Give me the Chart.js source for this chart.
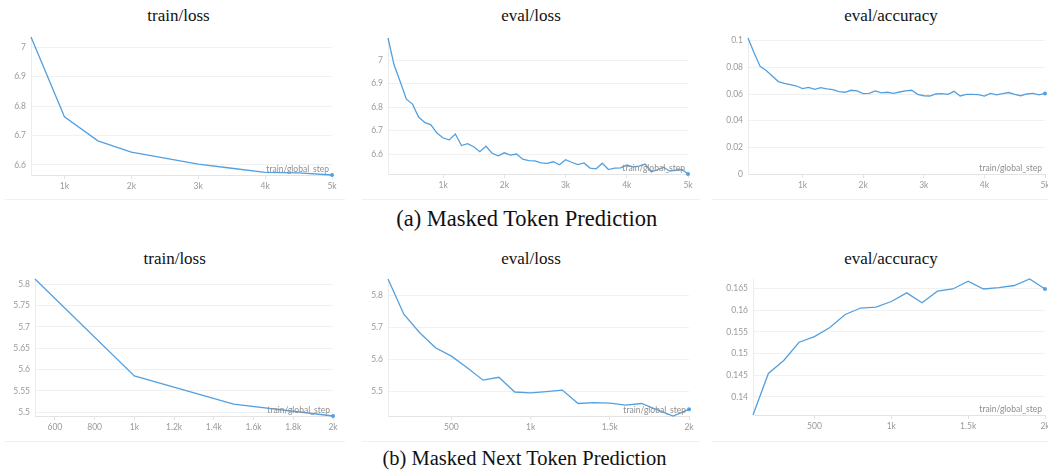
<!DOCTYPE html>
<html><head><meta charset="utf-8">
<script src="https://cdn.jsdelivr.net/npm/chart.js@4.4.1/dist/chart.umd.min.js"></script>
<style>
html,body{margin:0;padding:0;background:#fff;width:1048px;height:471px;overflow:hidden;position:relative;}
.t{position:absolute;font-family:"Liberation Serif","Times New Roman",serif;color:#111;white-space:nowrap;transform:translate(-50%,-50%);line-height:1.15;}
.title{font-size:17px;}
.capa{font-size:22.5px;}
.capb{font-size:20.5px;}
.sep{position:absolute;height:1px;background:#f0f0f0;}
canvas{position:absolute;}
</style></head><body>
<div class="t title" style="left:178.5px;top:16px">train/loss</div>
<div class="t title" style="left:531px;top:16px">eval/loss</div>
<div class="t title" style="left:891px;top:16px">eval/accuracy</div>
<div class="t capa" style="left:526.7px;top:218.5px">(a) Masked Token Prediction</div>
<div class="t title" style="left:174.7px;top:259.3px">train/loss</div>
<div class="t title" style="left:531px;top:259px">eval/loss</div>
<div class="t title" style="left:891px;top:259px">eval/accuracy</div>
<div class="t capb" style="left:524.5px;top:459px">(b) Masked Next Token Prediction</div>
<div class="sep" style="left:5px;width:340px;top:199px"></div>
<div class="sep" style="left:362px;width:338px;top:199px"></div>
<div class="sep" style="left:712px;width:336px;top:199px"></div>
<div class="sep" style="left:5px;width:340px;top:441px"></div>
<div class="sep" style="left:362px;width:338px;top:441px"></div>
<div class="sep" style="left:712px;width:336px;top:441px"></div>
<script>
// ---------- (a) Masked Token Prediction ----------
const trainStepsA = [500,1000,1500,2000,2500,3000,3500,4000,4500,5000];
const trainLossA = [7.035,6.764,6.682,6.644,6.623,6.603,6.589,6.575,6.573,6.566];
const evalStepsA = [100,200,300,400,500,600,700,800,900,1000,
  1100,1200,1300,1400,1500,1600,1700,1800,1900,2000,
  2100,2200,2300,2400,2500,2600,2700,2800,2900,3000,
  3100,3200,3300,3400,3500,3600,3700,3800,3900,4000,
  4100,4200,4300,4400,4500,4600,4700,4800,4900,5000];
const evalLossA = [7.094,6.979,6.908,6.834,6.813,6.758,6.735,6.725,6.690,6.669,
  6.661,6.686,6.637,6.645,6.632,6.611,6.634,6.604,6.593,6.606,
  6.596,6.601,6.579,6.573,6.572,6.563,6.561,6.568,6.555,6.577,
  6.566,6.556,6.563,6.541,6.538,6.562,6.535,6.541,6.542,6.554,
  6.546,6.549,6.558,6.525,6.534,6.545,6.528,6.532,6.535,6.516];
const evalAccA = [0.1020,0.0910,0.0807,0.0777,0.0735,0.0693,0.0680,0.0670,0.0660,0.0640,
  0.0650,0.0635,0.0648,0.0638,0.0633,0.0618,0.0613,0.0628,0.0623,0.0603,
  0.0605,0.0623,0.0608,0.0613,0.0605,0.0615,0.0623,0.0628,0.0597,0.0587,
  0.0585,0.0600,0.0603,0.0597,0.0620,0.0585,0.0597,0.0597,0.0595,0.0584,
  0.0605,0.0593,0.0603,0.0611,0.0597,0.0587,0.0600,0.0605,0.0593,0.0604];
const xTicksA = [1000,2000,3000,4000,5000];
const xLabelsA = ['1k','2k','3k','4k','5k'];
const yTicksLossA = [6.6,6.7,6.8,6.9,7];
const yLabelsLossA = ['6.6','6.7','6.8','6.9','7'];
const yTicksAccA = [0,0.02,0.04,0.06,0.08,0.1];
const yLabelsAccA = ['0','0.02','0.04','0.06','0.08','0.1'];

// ---------- (b) Masked Next Token Prediction ----------
const trainStepsB = [500,1000,1500,2000];
const trainLossB = [5.812,5.585,5.519,5.491];
const evalStepsB = [100,200,300,400,500,600,700,800,900,1000,
  1100,1200,1300,1400,1500,1600,1700,1800,1900,2000];
const evalLossB = [5.850,5.740,5.682,5.635,5.609,5.573,5.534,5.543,5.497,5.494,
  5.498,5.503,5.461,5.464,5.462,5.456,5.461,5.441,5.422,5.443];
const evalAccB = [0.1358,0.1454,0.1484,0.1526,0.1539,0.1560,0.1590,0.1605,0.1607,0.1620,
  0.1640,0.1617,0.1644,0.1649,0.1667,0.1649,0.1652,0.1657,0.1672,0.1649];
const xTicksTrainB = [600,800,1000,1200,1400,1600,1800,2000];
const xLabelsTrainB = ['600','800','1k','1.2k','1.4k','1.6k','1.8k','2k'];
const xTicksEvalB = [500,1000,1500,2000];
const xLabelsEvalB = ['500','1k','1.5k','2k'];
const yTicksTrainLossB = [5.5,5.55,5.6,5.65,5.7,5.75,5.8];
const yLabelsTrainLossB = ['5.5','5.55','5.6','5.65','5.7','5.75','5.8'];
const yTicksEvalLossB = [5.5,5.6,5.7,5.8];
const yLabelsEvalLossB = ['5.5','5.6','5.7','5.8'];
const yTicksEvalAccB = [0.14,0.145,0.15,0.155,0.16,0.165];
const yLabelsEvalAccB = ['0.14','0.145','0.15','0.155','0.16','0.165'];

const LINE = '#54a0de';
const TICKC = '#9a9a9a';
const FONT = 'Lato';
const PADL = 60, PADT = 12, PADR = 24, AXH = 26;

const stepLabel = {
  id: 'stepLabel',
  afterDatasetsDraw(chart) {
    const {ctx, chartArea: a} = chart;
    ctx.save();
    ctx.font = '8.5px ' + FONT;
    ctx.fillStyle = '#8e8e8e';
    ctx.textAlign = 'right';
    ctx.textBaseline = 'middle';
    ctx.fillText('train/global_step', a.right - 3, a.bottom - 6);
    ctx.restore();
  }
};

function makeChart(box, xs, ys, xT, xL, yT, yL, yMin) {
  const cv = document.createElement('canvas');
  const w = (box.r - box.l) + PADL + PADR;
  const h = (box.b - box.t) + PADT + AXH;
  cv.width = w; cv.height = h;
  cv.style.left = (box.l - PADL) + 'px';
  cv.style.top = (box.t - PADT) + 'px';
  cv.style.width = w + 'px'; cv.style.height = h + 'px';
  document.body.appendChild(cv);
  const n = xs.length;
  new Chart(cv, {
    type: 'line',
    data: { datasets: [{
      data: xs.map((x, i) => ({x: x, y: ys[i]})),
      borderColor: LINE, backgroundColor: LINE, borderWidth: 1.3,
      tension: 0, clip: false,
      pointRadius: c => c.dataIndex === n - 1 ? 2 : 0,
      pointBorderWidth: 0, pointBackgroundColor: LINE
    }]},
    options: {
      responsive: false, animation: false, devicePixelRatio: 1,
      layout: { padding: { left: 0, top: PADT, right: PADR, bottom: 0 } },
      plugins: { legend: { display: false }, tooltip: { enabled: false } },
      scales: {
        x: {
          type: 'linear', min: xs[0], max: xs[n - 1],
          afterFit(s) { s.height = AXH; },
          afterBuildTicks(s) { s.ticks = xT.map(v => ({value: v})); },
          ticks: { callback: (v, i) => xL[i], color: TICKC, font: {family: FONT, size: 8.5},
                   padding: 2, maxRotation: 0, autoSkip: false },
          grid: { drawOnChartArea: false, drawTicks: true, tickLength: 4, color: '#e3e3e3' },
          border: { display: true, color: '#e3e3e3' }
        },
        y: {
          min: (yMin !== undefined ? yMin : Math.min(...ys)), max: Math.max(...ys),
          afterFit(s) { s.width = PADL; },
          afterBuildTicks(s) { s.ticks = yT.map(v => ({value: v})); },
          ticks: { callback: (v, i) => yL[i], color: TICKC, font: {family: FONT, size: 8.5}, padding: 5 },
          grid: { color: '#f1f1f1', drawTicks: false },
          border: { display: true, color: '#ececec' }
        }
      }
    },
    plugins: [stepLabel]
  });
}

makeChart({l:31, t:37, r:332, b:175}, trainStepsA, trainLossA, xTicksA, xLabelsA, yTicksLossA, yLabelsLossA);
makeChart({l:388, t:38, r:688, b:174}, evalStepsA, evalLossA, xTicksA, xLabelsA, yTicksLossA, yLabelsLossA);
makeChart({l:748, t:38, r:1045, b:174}, evalStepsA, evalAccA, xTicksA, xLabelsA, yTicksAccA, yLabelsAccA, 0);
makeChart({l:35, t:279, r:333, b:416}, trainStepsB, trainLossB, xTicksTrainB, xLabelsTrainB, yTicksTrainLossB, yLabelsTrainLossB);
makeChart({l:388, t:279, r:689, b:416}, evalStepsB, evalLossB, xTicksEvalB, xLabelsEvalB, yTicksEvalLossB, yLabelsEvalLossB);
makeChart({l:753, t:279, r:1045, b:415}, evalStepsB, evalAccB, xTicksEvalB, xLabelsEvalB, yTicksEvalAccB, yLabelsEvalAccB);
</script>
</body></html>
